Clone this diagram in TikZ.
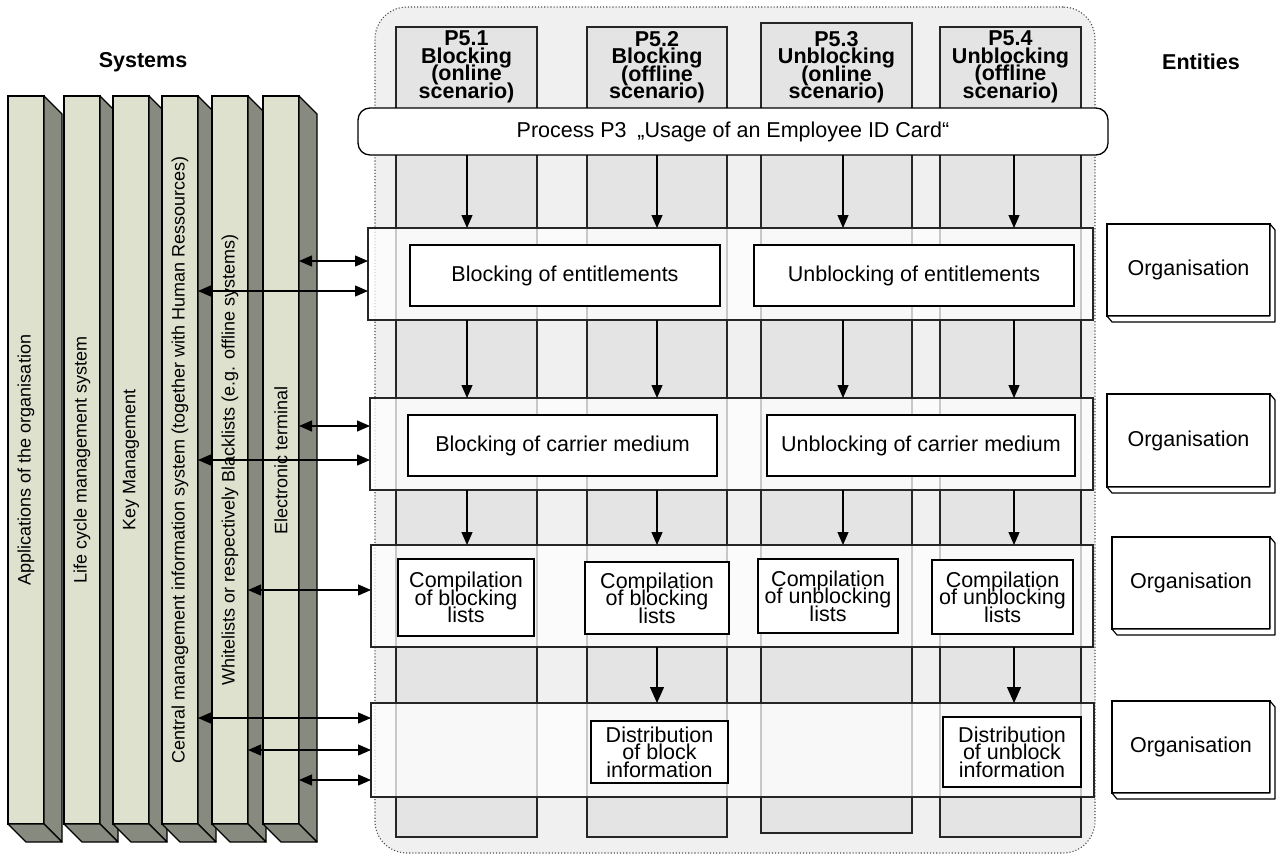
\documentclass[tikz,border=0pt]{standalone}
\usepackage{fontspec}
\usepackage{graphicx}
\setmainfont{Liberation Sans}
\usetikzlibrary{arrows.meta,calc}

\definecolor{panelgray}{HTML}{F0F0F0}
\definecolor{lanegray}{HTML}{E4E4E4}
\definecolor{pillarfront}{HTML}{DEE1CE}
\definecolor{pillarside}{HTML}{878A7E}

% lines of a paragraph always sit one baselineskip apart
\newcommand{\tightlines}{\lineskiplimit=-100pt\relax}

\tikzset{
  every node/.style={inner sep=0pt, outer sep=0pt},
  bodyfont/.style={font=\fontsize{21.5}{17.5}\selectfont\tightlines, align=center},
  headfont/.style={font=\bfseries\fontsize{21.5}{17.5}\selectfont\tightlines, align=center},
  container/.style={draw=black!70, dotted, line width=1.1pt, fill=panelgray, rounded corners=32pt},
  lanebox/.style={draw=black!85, fill=lanegray, line width=1.3pt},
  procbar/.style={draw=black, fill=white, line width=1.3pt, rounded corners=12pt, bodyfont},
  band/.style={draw=black!85, fill=white, fill opacity=0.75, line width=1.3pt},
  actbox/.style={draw=black, fill=white, line width=1.3pt, bodyfont},
  entbox/.style={draw=black, fill=white, line width=1.2pt, bodyfont},
  pillar/.style={draw=black, fill=pillarfront, line width=1.3pt,
    minimum width=36pt, minimum height=728pt, font=\fontsize{18}{20}\selectfont},
  pillarface/.style={draw=black, fill=pillarside, line width=1.3pt, line join=round},
  flow/.style={-{Triangle[length=13pt,width=11pt]}, line width=1.2pt},
  bigflow/.style={-{Triangle[length=16pt,width=14pt]}, line width=1.2pt},
  link/.style={{Triangle[length=13pt,width=11pt]}-{Triangle[length=13pt,width=11pt]}, line width=1.2pt},
}

% rectangle node given by its corners: style, name, x0, y0, x1, y1, text
\newcommand{\rectnode}[7]{%
  \node[#1, minimum width={(#5-#3)*1pt}, minimum height={(#6-#4)*1pt}]
    (#2) at ({(#3+#5)/2},{(#4+#6)/2}) {#7};}

% a system pillar: name, left x, label
\newcommand{\systempillar}[3]{%
  \node[pillar] (#1) at ({#2+18},460) {\rotatebox{90}{#3}};
  \draw[pillarface] (#1.north east) -- ++(18,18) -- ($(#1.south east)+(18,18)$)
    -- (#1.south east) -- cycle;
  \draw[pillarface] (#1.south west) -- (#1.south east) -- ++(18,18)
    -- ($(#1.south west)+(18,18)$) -- cycle;}

% an entity box with its thin raised edge: name, x0, y0, x1, y1, text
\newcommand{\entitybox}[6]{%
  \rectnode{entbox}{#1}{#2}{#3}{#4}{#5}{#6}
  \draw[draw=black, fill=white, line width=1.2pt, line join=round]
    (#1.south west) -- ++(5,6) -- ($(#1.south east)+(5,6)$)
    -- ($(#1.north east)+(5,6)$) -- (#1.north east) -- (#1.south east) -- cycle;}

\begin{document}
\begin{tikzpicture}[x=1pt, y=-1pt]
\useasboundingbox (0,0) rectangle (1276,854);

% process area
\rectnode{container}{panel}{375}{7}{1095}{853}{}

% process lanes with their headers
\rectnode{lanebox}{lane1}{396}{27}{537}{837}{}
\rectnode{lanebox}{lane2}{587}{27}{727}{837}{}
\rectnode{lanebox}{lane3}{761}{23}{912}{833}{}
\rectnode{lanebox}{lane4}{940}{27}{1081}{837}{}

\node[headfont] (hdr1) at (466.5,67) {P5.1\\Blocking\\(online\\scenario)};
\node[headfont] (hdr2) at (657,67) {P5.2\\Blocking\\(offline\\scenario)};
\node[headfont] (hdr3) at (836.5,67) {P5.3\\Unblocking\\(online\\scenario)};
\node[headfont] (hdr4) at (1010.5,67) {P5.4\\Unblocking\\(offline\\scenario)};

\rectnode{procbar}{proc}{358}{108}{1108}{155}{Process P3\enspace„Usage of an Employee ID Card“}

% horizontal bands
\rectnode{band}{band1}{368}{228}{1093}{320}{}
\rectnode{band}{band2}{370}{398}{1093}{490}{}
\rectnode{band}{band3}{371}{545}{1093}{647}{}
\rectnode{band}{band4}{371}{703}{1094}{797}{}

% activities
\rectnode{actbox}{a11}{410}{245}{720}{306}{Blocking of entitlements}
\rectnode{actbox}{a12}{754}{245}{1074}{306}{Unblocking of entitlements}
\rectnode{actbox}{a21}{408}{415}{717}{476}{Blocking of carrier medium}
\rectnode{actbox}{a22}{767}{415}{1075}{476}{Unblocking of carrier medium}
\rectnode{actbox}{a31}{398}{559}{534}{636}{Compilation\\of blocking\\lists}
\rectnode{actbox}{a32}{585}{562}{729}{634}{Compilation\\of blocking\\lists}
\rectnode{actbox}{a33}{758}{559}{898}{633}{Compilation\\of unblocking\\lists}
\rectnode{actbox}{a34}{932}{560}{1073}{634}{Compilation\\of unblocking\\lists}
\rectnode{actbox}{a42}{591}{721}{728}{783}{Distribution\\of block\\information}
\rectnode{actbox}{a44}{943}{717}{1081}{787}{Distribution\\of unblock\\information}

% flow down the lanes
\coordinate (x1) at (467,0);
\coordinate (x2) at (657,0);
\coordinate (x3) at (843,0);
\coordinate (x4) at (1014,0);
\foreach \c in {x1,x2,x3,x4} {
  \draw[flow] (proc.south -| \c) -- (band1.north -| \c);
  \draw[flow] (band1.south -| \c) -- (band2.north -| \c);
  \draw[flow] (band2.south -| \c) -- (band3.north -| \c);
}
\draw[bigflow] (band3.south -| x2) -- (band4.north -| x2);
\draw[bigflow] (band3.south -| x4) -- (band4.north -| x4);

% systems
\systempillar{s1}{8}{Applications of the organisation}
\systempillar{s2}{64}{Life cycle management system}
\systempillar{s3}{113}{Key Management}
\systempillar{s4}{162}{Central management information system (together with Human Ressources)}
\systempillar{s5}{212}{Whitelists or respectively Blacklists (e.g. offline systems)}
\systempillar{s6}{263}{Electronic terminal}

% links between systems and bands
\draw[link] (s6.east |- 0,261) -- (band1.west |- 0,261);
\draw[link] (s4.east |- 0,291) -- (band1.west |- 0,291);
\draw[link] (s6.east |- 0,426) -- (band2.west |- 0,426);
\draw[link] (s4.east |- 0,460) -- (band2.west |- 0,460);
\draw[link] (s5.east |- 0,590) -- (band3.west |- 0,590);
\draw[link] (s4.east |- 0,718) -- (band4.west |- 0,718);
\draw[link] (s5.east |- 0,750) -- (band4.west |- 0,750);
\draw[link] (s6.east |- 0,780) -- (band4.west |- 0,780);

% entities
\entitybox{e1}{1107}{224}{1270}{316}{Organisation}
\entitybox{e2}{1107}{394}{1270}{487}{Organisation}
\entitybox{e3}{1112}{537}{1270}{629}{Organisation}
\entitybox{e4}{1112}{701}{1270}{793}{Organisation}

% titles
\node[headfont] (tsys) at (143,62) {Systems};
\node[headfont] (tent) at (1201,62) {Entities};
\end{tikzpicture}
\end{document}
